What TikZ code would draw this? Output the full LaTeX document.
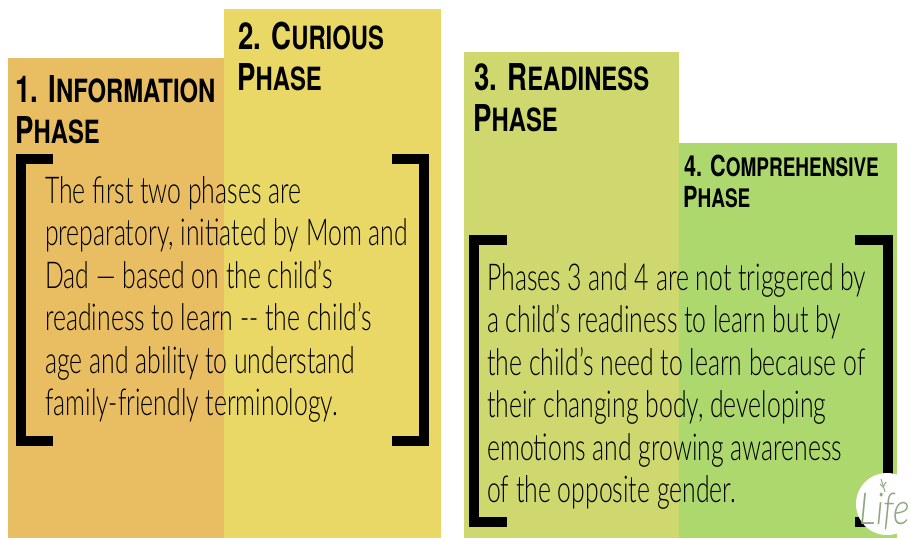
\documentclass[tikz,border=0pt]{standalone}
\usepackage{fontspec}
\newfontfamily\headf{TeX Gyre Heros Bold}[FakeStretch=0.745]
\newfontfamily\bodyf{Lato Light}[FakeStretch=0.67]
\newfontfamily\logof{Lato Light Italic}[FakeStretch=0.8]
\definecolor{cone}{HTML}{E9BE62}
\definecolor{ctwo}{HTML}{E9D766}
\definecolor{cthree}{HTML}{CFD86E}
\definecolor{cfour}{HTML}{ADD86E}
\definecolor{clogo}{HTML}{8FA67E}
\newcommand{\capsA}[2]{{\fontsize{37}{37}\selectfont #1}{\fontsize{32}{32}\selectfont #2}}
\newcommand{\capsB}[2]{{\fontsize{29}{29}\selectfont #1}{\fontsize{25.5}{25.5}\selectfont #2}}
\tikzset{x=1pt,y=-1pt,
 panel/.style={fill=#1,draw=none},
 headtxt/.style={anchor=base west,inner sep=0,font=\headf,text=black},
 bodytxt/.style={anchor=north west,inner sep=0,font=\bodyf\fontsize{37}{42.5}\selectfont,align=left,text=black},
 brk/.style={line width=10pt,draw=black,miter limit=10}}
\begin{document}
\begin{tikzpicture}
\useasboundingbox (0,0) rectangle (910,538);
\fill[panel=cone] (8,58) rectangle (224,538);
\fill[panel=ctwo] (224,9) rectangle (441,538);
\fill[panel=cthree] (464,52) rectangle (679,538);
\fill[panel=cfour] (679,143) rectangle (897,538);
\node[headtxt] (h1a) at (15,102) {\capsA{1. I}{NFORMATION}};
\node[headtxt] (h1b) at (15,143) {\capsA{P}{HASE}};
\node[headtxt] (h2a) at (238,49) {\capsA{2. C}{URIOUS}};
\node[headtxt] (h2b) at (237,90) {\capsA{P}{HASE}};
\node[headtxt] (h3a) at (474,90) {\capsA{3. R}{EADINESS}};
\node[headtxt] (h3b) at (473,131) {\capsA{P}{HASE}};
\node[headtxt] (h4a) at (684,176) {\capsB{4. C}{OMPREHENSIVE}};
\node[headtxt] (h4b) at (683,207) {\capsB{P}{HASE}};
\draw[brk] (53,159) -- (21,159) -- (21,441) -- (53,441);
\draw[brk] (392,159) -- (424,159) -- (424,441) -- (392,441);
\draw[brk] (507,240) -- (474,240) -- (474,522) -- (507,522);
\draw[brk] (855,240) -- (888,240) -- (888,522) -- (855,522);
\node[bodytxt] (b1) at (45,176) {The first two phases are\\preparatory, initiated by Mom and\\Dad — based on the child’s\\readiness to learn -- the child’s\\age and ability to understand\\family-friendly terminology.};
\node[bodytxt] (b2) at (487,263) {Phases 3 and 4 are not triggered by\\a child’s readiness to learn but by\\the child’s need to learn because of\\their changing body, developing\\emotions and growing awareness\\of the opposite gender.};
\fill[white] (887,504) circle (31);
\draw[clogo,line width=1pt] (881,479) -- (885,492);
\draw[clogo,line width=1pt] (880,484) -- (883,487) -- (886,482);
\node[inner sep=0,font=\logof\fontsize{44}{44}\selectfont,text=clogo] (logo) at (885,511) {Life};
\end{tikzpicture}
\end{document}
